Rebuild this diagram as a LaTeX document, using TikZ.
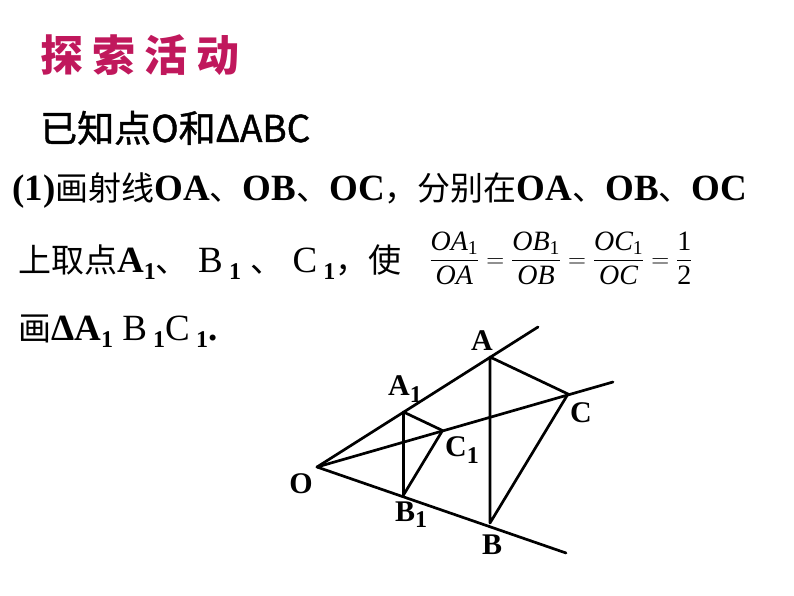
\documentclass[tikz,border=0pt]{standalone}
\usepackage{fontspec}
\usepackage{amsmath}
\usetikzlibrary{calc}
\setmainfont{Liberation Serif}
\newfontfamily\cjk{Noto Sans CJK SC}
\newfontfamily\cjkmid[FakeBold=1.2]{Noto Sans CJK SC}
\definecolor{Title}{HTML}{C0185C}
\newcommand\lowone{\raisebox{-.45ex}{\fontsize{24}{24}\selectfont\bfseries 1}}
\newcommand\zh[1]{{\cjk\fontsize{33}{33}\selectfont #1}}
\tikzset{
  txt/.style={anchor=base west,inner sep=0pt},
  lbl/.style={font=\fontsize{30}{30}\selectfont\bfseries,inner sep=0pt},
  geo/.style={line width=2.7pt,line cap=round,line join=round},
}

\begin{document}
\begin{tikzpicture}[x=1pt,y=-1pt]
\useasboundingbox (0,0) rectangle (794,596);
% Heading
\node[txt,text=Title,font=\cjk\bfseries\fontsize{43}{43}\selectfont] (head) at (40,72)
  {探\hspace{9pt}索\hspace{9pt}活\hspace{9pt}动};
\node[txt,font=\cjkmid\fontsize{37}{37}\selectfont] (given) at (40,142) {已知点O和ΔABC};
% Task text
\node[txt,font=\fontsize{37}{37}\selectfont] (step1) at (12,200)
  {\textbf{(1)}\zh{画射线}\textbf{OA}\zh{、}\textbf{OB}\zh{、}\textbf{OC}\zh{，分别在}\textbf{OA}\zh{、}\textbf{OB}\zh{、}\textbf{OC}};
\node[txt,font=\fontsize{37}{37}\selectfont] (step2) at (18,272)
  {\zh{上取点}\textbf{A}\lowone\zh{、} B\,\lowone\ \zh{、} C\,\lowone\zh{，使}};
\node[inner sep=0pt,font=\fontsize{28}{28}\selectfont] (ratio) at (561,258)
  {$\dfrac{\textit{OA}_{\text{1}}}{\textit{OA}}=\dfrac{\textit{OB}_{\text{1}}}{\textit{OB}}=\dfrac{\textit{OC}_{\text{1}}}{\textit{OC}}=\dfrac{\text{1}}{\text{2}}$};
\node[txt,font=\fontsize{37}{37}\selectfont] (step3) at (18,340)
  {\zh{画}\textbf{ΔA}\lowone\ B\,\lowone C\,\lowone\textbf{.}};
% Points
\coordinate (O) at (317,467);
\coordinate (A) at (490,357);
\coordinate (B) at (490,523);
\coordinate (C) at (568,394);
\coordinate (A1) at ($(O)!0.5!(A)$);
\coordinate (B1) at ($(O)!0.5!(B)$);
\coordinate (C1) at ($(O)!0.5!(C)$);
\coordinate (Aend) at (538,327);
\coordinate (Bend) at (566,553);
\coordinate (Cend) at (613,382);
% Rays
\draw[geo] (O) -- (Aend);
\draw[geo] (O) -- (Bend);
\draw[geo] (O) -- (Cend);
% Triangles
\draw[geo] (A) -- (B) -- (C) -- cycle;
\draw[geo] (A1) -- (B1) -- (C1) -- cycle;
% Labels
\node[lbl] (lO) at (301,484) {O};
\node[lbl] (lA) at (482,341) {A};
\node[lbl] (lB) at (492,545) {B};
\node[lbl] (lC) at (581,413) {C};
\node[lbl] (lA1) at (405,389) {A\lowone};
\node[lbl] (lB1) at (411,515) {B\lowone};
\node[lbl] (lC1) at (462,450) {C\lowone};
\end{tikzpicture}
\end{document}
